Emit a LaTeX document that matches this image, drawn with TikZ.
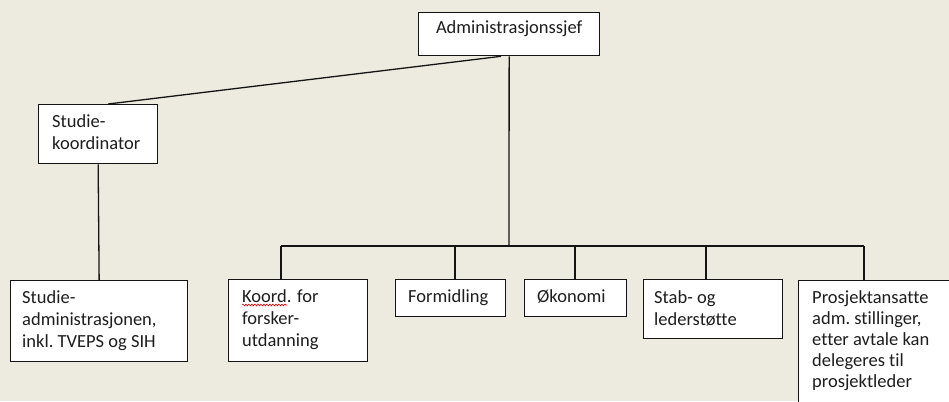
\documentclass[tikz,border=0pt]{standalone}
\usepackage{fontspec}
\setmainfont{Carlito}[Ligatures={NoCommon}]
\usetikzlibrary{decorations.pathmorphing}
\definecolor{paper}{RGB}{237,235,224}
\definecolor{ink}{RGB}{20,20,20}
\definecolor{txt}{RGB}{30,30,30}
\begin{document}
\begin{tikzpicture}[x=1pt,y=-1pt,
  box/.style={draw=ink, fill=white, line width=1.3pt, anchor=north west, inner sep=0pt},
  lbl/.style={text=txt, inner sep=0pt, font=\fontsize{18.5}{22}\selectfont},
  link/.style={draw=ink, line width=1.3pt}]
  % canvas
  \clip (0,0) rectangle (949,401);
  \fill[paper] (0,0) rectangle (949,401);

  % boxes
  \node[box, minimum width=181pt, minimum height=43pt] (admin)    at (418,12)  {};
  \node[box, minimum width=119pt, minimum height=59pt] (stukoord) at (38,104)  {};
  \node[box, minimum width=177pt, minimum height=81pt] (stuadm)   at (10,280)  {};
  \node[box, minimum width=139pt, minimum height=82pt] (koord)    at (228,279) {};
  \node[box, minimum width=110pt, minimum height=37pt] (formid)   at (395,279) {};
  \node[box, minimum width=102pt, minimum height=37pt] (okon)     at (524,279) {};
  \node[box, minimum width=139pt, minimum height=59pt] (stab)     at (643,279) {};
  \node[box, minimum width=170pt, minimum height=140pt] (prosj)   at (798,280) {};

  % bus and drop points
  \coordinate (bus)  at (509,246);
  \coordinate (d1) at (281,246);
  \coordinate (d2) at (455,246);
  \coordinate (d3) at (575,246);
  \coordinate (d4) at (706,246);
  \coordinate (d5) at (864,246);

  % connectors
  \draw[link] ([xshift=-8pt]admin.south) -- ([xshift=10pt]stukoord.north);
  \draw[link] (stukoord.south) -- (stuadm.north);
  \draw[link] (admin.south) -- (bus);
  \draw[link] (d1) -- (d5);
  \draw[link] (d1) -- (d1 |- koord.north);
  \draw[link] (d2) -- (d2 |- formid.north);
  \draw[link] (d3) -- (d3 |- okon.north);
  \draw[link] (d4) -- (d4 |- stab.north);
  \draw[link] (d5) -- (d5 |- prosj.north);

  % labels
  \node[lbl, anchor=base] (t0) at ([shift={(0,22)}]admin.north) {Administrasjonssjef};
  \node[lbl, anchor=base west] (t1) at ([shift={(14,23)}]stukoord.north west)
    {\parbox[t]{100pt}{Studie-\\koordinator}};
  \node[lbl, anchor=base west] (t2) at ([shift={(12,23)}]stuadm.north west)
    {\parbox[t]{170pt}{Studie-\\administrasjonen,\\inkl.\ TVEPS og SIH}};
  \node[lbl, anchor=base west] (t3) at ([shift={(14,23)}]koord.north west)
    {\parbox[t]{120pt}{Koord. for\\forsker-\\utdanning}};
  \node[lbl, anchor=base west] (t4) at ([shift={(13,23)}]formid.north west) {Formidling};
  \node[lbl, anchor=base west] (t5) at ([shift={(13,23)}]okon.north west) {Økonomi};
  \node[lbl, anchor=base west] (t6) at ([shift={(11,24)}]stab.north west)
    {\parbox[t]{120pt}{Stab- og\\lederstøtte}};
  \node[lbl, anchor=base west] (t7) at ([shift={(14,23)}]prosj.north west)
    {\parbox[t]{150pt}{\lineskiplimit=-10pt\baselineskip=21pt Prosjektansatte\\adm.\ stillinger,\\etter avtale kan\\delegeres til\\prosjektleder}};

  % spell-check squiggle under the first word
  \draw[red!85!black, line width=0.6pt, decorate,
        decoration={snake, amplitude=0.9pt, segment length=3pt}]
    ([shift={(0,3)}]t3.base west) -- ++(45,0);
\end{tikzpicture}
\end{document}
